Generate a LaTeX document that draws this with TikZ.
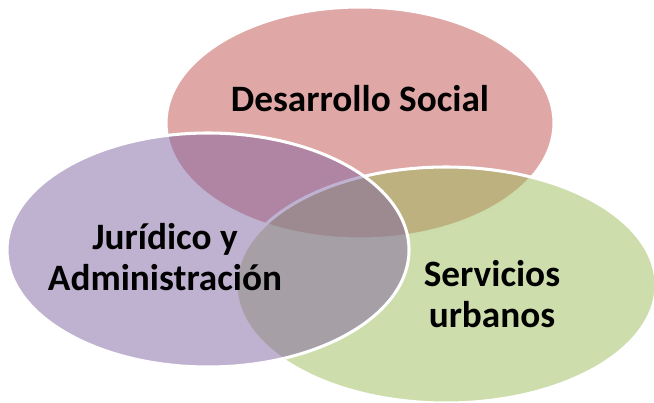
\documentclass[tikz,border=0pt]{standalone}
\usepackage{fontspec}
\setmainfont{Carlito}
\definecolor{socialred}{HTML}{C0504D}
\definecolor{urbangreen}{HTML}{9BBB59}
\definecolor{juridpurple}{HTML}{8064A2}
\begin{document}
\begin{tikzpicture}[x=0.03cm,y=-0.03cm,line join=round,
	area/.style={draw=white,line width=2.6pt,fill opacity=0.5},
	label/.style={font=\fontsize{31.8}{35}\selectfont\bfseries,align=center}]
		\useasboundingbox (0,0) rectangle (654,403);
		\clip (0,0) rectangle (654,403);
		\draw[area,fill=socialred] (360,123) ellipse [x radius=194,y radius=116];
		\draw[area,fill=urbangreen] (446,285) ellipse [x radius=210,y radius=118];
		\draw[area,fill=juridpurple] (208,250) ellipse [x radius=201,y radius=117];
		\node[label] (social) at (360,99) {Desarrollo Social};
		\node[label] (juridico) at (165,257) {Jurídico y\\Administración};
		\node[label] (urbanos) at (492,294) {Servicios\\urbanos};
\end{tikzpicture}
\end{document}
